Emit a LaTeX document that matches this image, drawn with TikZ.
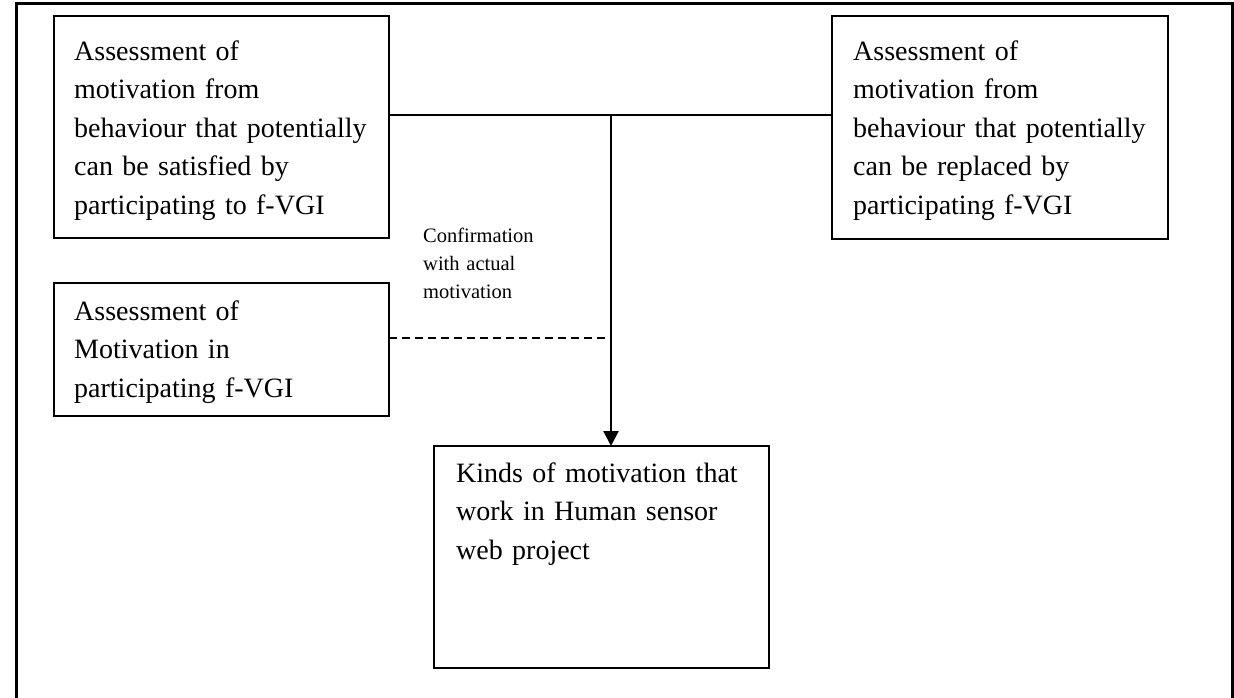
\documentclass[tikz,border=0pt]{standalone}
\usepackage{fontspec}
\setmainfont{Liberation Serif}
\usetikzlibrary{arrows.meta}
\begin{document}
\begin{tikzpicture}[x=1pt,y=-1pt,
  box/.style={draw, line width=1.8pt, rectangle, inner sep=0pt, outer sep=0pt, anchor=north west},
  boxtext/.style={anchor=base west, inner sep=0pt, text width=330pt, align=left,
    font=\fontsize{28}{38.5}\selectfont},
  note/.style={anchor=base west, inner sep=0pt, text width=150pt, align=left,
    font=\fontsize{20.5}{28}\selectfont},
  link/.style={line width=1.8pt},
]
\clip (0,0) rectangle (1234,697);
\fill[white] (0,0) rectangle (1234,697);
% page frame (open at the bottom)
\draw[line width=3pt] (16,720) -- (16,3.5) -- (1232,3.5) -- (1232,720);

% boxes
\node[box, minimum width=335pt, minimum height=222pt] (b1) at (54,16) {};
\node[box, minimum width=336pt, minimum height=223pt] (b2) at (832,16) {};
\node[box, minimum width=335pt, minimum height=133pt] (b3) at (54,283) {};
\node[box, minimum width=335pt, minimum height=222pt] (b4) at (434,446) {};

% box texts
\node[boxtext] (t1) at (74,60) {Assessment of\\motivation from\\behaviour that potentially\\can be satisfied by\\participating to f-VGI};
\node[boxtext] (t2) at (853,60) {Assessment of\\motivation from\\behaviour that potentially\\can be replaced by\\participating f-VGI};
\node[boxtext] (t3) at (74,320) {Assessment of\\Motivation in\\participating f-VGI};
\node[boxtext] (t4) at (456,482) {Kinds of motivation that\\work in Human sensor\\web project};

% connector label
\node[note] (n1) at (423,242) {Confirmation\\with actual\\motivation};

% connectors
\coordinate (j) at (611,115);
\coordinate (d) at (607,338);
\draw[link] (b1.east |- j) -- (b2.west |- j);
\draw[link, line width=2.2pt, -{Triangle[width=15pt,length=15pt]}] (j) -- (j |- b4.north);
\draw[link, dash pattern=on 8pt off 5pt] (b3.east |- d) -- (d);
\end{tikzpicture}
\end{document}
